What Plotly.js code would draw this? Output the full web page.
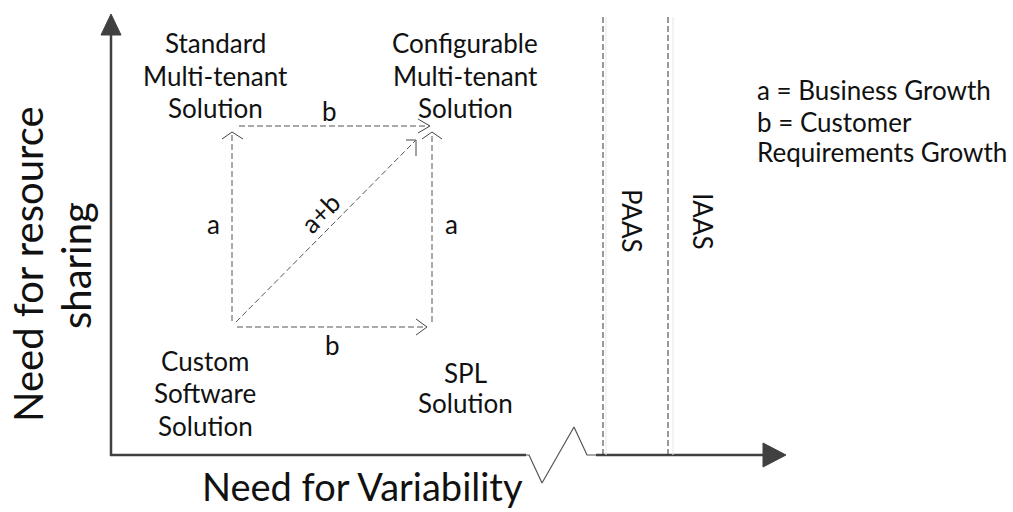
<!DOCTYPE html>
<html><head><meta charset="utf-8">
<script src="https://cdn.plot.ly/plotly-3.0.1.min.js"></script>
<style>html,body{margin:0;padding:0;background:#fff}#chart{width:1013px;height:512px}</style>
</head><body><div id="chart"></div>
<script>
// Diagram positions (x to the right, y downward)
const yAxisX = [111, 111];
const yAxisY = [456, 32];
const yHeadX = [101, 111, 121, 101];
const yHeadY = [35, 14, 35, 35];
const xAxisLeftX = [110, 526];
const xAxisRightX = [596, 766];
const xAxisY = [455, 455];
const xHeadX = [763, 786, 763, 763];
const xHeadY = [443, 455, 467, 443];
const breakX = [526, 529, 542, 574, 587, 596];
const breakY = [455, 455, 483, 427, 455, 455];

const cloudX = [603, 603, null, 668, 668];
const cloudY = [17, 455, null, 17, 455];
const cloudShadowX = [606, 606, null, 673, 673];
const cloudShadowY = [17, 455, null, 17, 455];

// dashed growth arrows
const arrowsX = [232, 232, null, 239, 429, null, 432, 432, null, 237, 426, null, 236, 415];
const arrowsY = [321, 134, null, 126, 126, null, 322, 134, null, 327, 327, null, 322, 141];
// arrow heads (open chevrons)
const headsX = [222, 232, 243, null, 418, 430, 418, null, 422, 432, 442, null, 416, 427, 416, null, 406, 416, 416];
const headsY = [139, 132, 139, null, 119, 126, 133, null, 139, 132, 139, null, 319, 327, 335, null, 140, 140, 156];

// text labels
const labels = ["Standard", "Multi-tenant", "Solution",
  "Configurable", "Multi-tenant", "Solution",
  "Custom", "Software", "Solution",
  "SPL", "Solution",
  "a", "a", "b", "b"];
const labelX = [215, 215, 215, 465, 465, 465, 205, 205, 205, 465, 465, 213, 451, 329, 332];
const labelY = [43, 76, 108, 43, 76, 108, 361, 393, 426, 373, 403, 224, 224, 111, 345];

const legendText = ["a = Business Growth", "b = Customer", "Requirements Growth"];
const legendX = [755, 755, 755];
const legendY = [90, 122, 152];

const rotLabels = ["PAAS", "IAAS"];
const rotX = [632, 703];
const rotY = [221, 221];

const font = "Lato, 'Open Sans', sans-serif";
const axisColor = "#404040";

const traces = [
  {x: yAxisX, y: yAxisY, mode: "lines", line: {color: axisColor, width: 2.5}},
  {x: yHeadX, y: yHeadY, mode: "lines", fill: "toself", fillcolor: axisColor, line: {color: axisColor, width: 1}},
  {x: xAxisLeftX, y: xAxisY, mode: "lines", line: {color: axisColor, width: 2.5}},
  {x: xAxisRightX, y: xAxisY, mode: "lines", line: {color: axisColor, width: 2.5}},
  {x: xHeadX, y: xHeadY, mode: "lines", fill: "toself", fillcolor: axisColor, line: {color: axisColor, width: 1}},
  {x: breakX, y: breakY, mode: "lines", line: {color: "#555555", width: 1.2}},
  {x: cloudShadowX, y: cloudShadowY, mode: "lines", line: {color: "#e6e6e6", width: 1}},
  {x: cloudX, y: cloudY, mode: "lines", line: {color: "#333333", width: 1, dash: "6px,3px"}},
  {x: arrowsX, y: arrowsY, mode: "lines", line: {color: "#555555", width: 1, dash: "6px,3px"}},
  {x: headsX, y: headsY, mode: "lines", line: {color: "#444444", width: 1}}
].map(t => Object.assign({hoverinfo: "skip", showlegend: false, type: "scatter"}, t));

const annotations = [];
labels.forEach((t, i) => annotations.push({x: labelX[i], y: labelY[i], text: t, showarrow: false,
  xanchor: "center", yanchor: "middle", font: {family: font, size: 26, color: "#111"}}));
legendText.forEach((t, i) => annotations.push({x: legendX[i], y: legendY[i], text: t, showarrow: false,
  xanchor: "left", yanchor: "middle", font: {family: font, size: 26, color: "#111"}}));
rotLabels.forEach((t, i) => annotations.push({x: rotX[i], y: rotY[i], text: t, showarrow: false,
  textangle: 90, xanchor: "center", yanchor: "middle", font: {family: font, size: 26, color: "#111"}}));
annotations.push({x: 320, y: 213, text: "a+b", showarrow: false, textangle: -45,
  xanchor: "center", yanchor: "middle", font: {family: font, size: 26, color: "#111"}});
annotations.push({x: 28, y: 264, text: "Need for resource", showarrow: false, textangle: -90,
  xanchor: "center", yanchor: "middle", font: {family: font, size: 40, color: "#111"}});
annotations.push({x: 76, y: 266, text: "sharing", showarrow: false, textangle: -90,
  xanchor: "center", yanchor: "middle", font: {family: font, size: 40, color: "#111"}});
annotations.push({x: 362, y: 511, text: "Need for Variability", showarrow: false,
  xanchor: "center", yanchor: "bottom", font: {family: font, size: 38, color: "#111"}});

const layout = {
  width: 1013, height: 512,
  margin: {l: 0, r: 0, t: 0, b: 0},
  paper_bgcolor: "#ffffff", plot_bgcolor: "#ffffff",
  xaxis: {range: [0, 1013], visible: false, fixedrange: true},
  yaxis: {range: [512, 0], visible: false, fixedrange: true},
  showlegend: false,
  annotations: annotations
};
Plotly.newPlot("chart", traces, layout, {staticPlot: true, displayModeBar: false});
</script>
</body></html>
